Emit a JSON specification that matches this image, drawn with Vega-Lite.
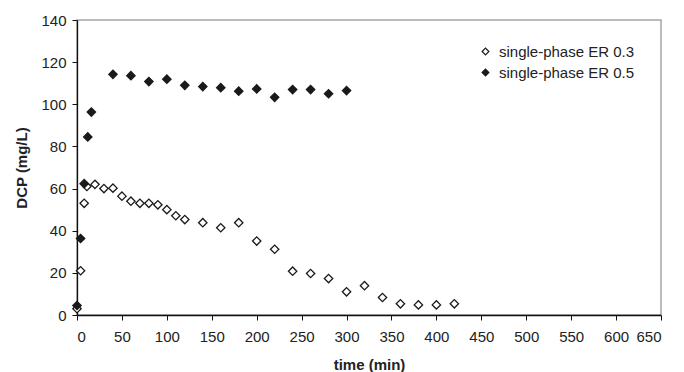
{
  "$schema": "https://vega.github.io/schema/vega-lite/v6.json",
  "autosize": {"type": "none"},
  "width": 584,
  "height": 295,
  "padding": {"left": 77, "top": 20, "right": 23, "bottom": 57},
  "background": "white",
  "config": {
    "view": {"stroke": "#a6a6a6", "strokeWidth": 1.5},
    "font": "Liberation Sans"
  },
  "data": {
    "values": [
      {"series": "single-phase ER 0.3", "time": 0, "dcp": 3},
      {"series": "single-phase ER 0.3", "time": 4, "dcp": 21},
      {"series": "single-phase ER 0.3", "time": 8, "dcp": 53},
      {"series": "single-phase ER 0.3", "time": 11, "dcp": 61},
      {"series": "single-phase ER 0.3", "time": 20, "dcp": 62},
      {"series": "single-phase ER 0.3", "time": 30, "dcp": 60},
      {"series": "single-phase ER 0.3", "time": 40, "dcp": 60.2},
      {"series": "single-phase ER 0.3", "time": 50, "dcp": 56.4},
      {"series": "single-phase ER 0.3", "time": 60, "dcp": 54},
      {"series": "single-phase ER 0.3", "time": 70, "dcp": 53},
      {"series": "single-phase ER 0.3", "time": 80, "dcp": 53},
      {"series": "single-phase ER 0.3", "time": 90, "dcp": 52.3},
      {"series": "single-phase ER 0.3", "time": 100, "dcp": 50},
      {"series": "single-phase ER 0.3", "time": 110, "dcp": 47.1},
      {"series": "single-phase ER 0.3", "time": 120, "dcp": 45.3},
      {"series": "single-phase ER 0.3", "time": 140, "dcp": 43.8},
      {"series": "single-phase ER 0.3", "time": 160, "dcp": 41.4},
      {"series": "single-phase ER 0.3", "time": 180, "dcp": 43.8},
      {"series": "single-phase ER 0.3", "time": 200, "dcp": 35.1},
      {"series": "single-phase ER 0.3", "time": 220, "dcp": 31.2},
      {"series": "single-phase ER 0.3", "time": 240, "dcp": 20.8},
      {"series": "single-phase ER 0.3", "time": 260, "dcp": 19.7},
      {"series": "single-phase ER 0.3", "time": 280, "dcp": 17.3},
      {"series": "single-phase ER 0.3", "time": 300, "dcp": 11},
      {"series": "single-phase ER 0.3", "time": 320, "dcp": 13.9},
      {"series": "single-phase ER 0.3", "time": 340, "dcp": 8.3},
      {"series": "single-phase ER 0.3", "time": 360, "dcp": 5.3},
      {"series": "single-phase ER 0.3", "time": 380, "dcp": 4.8},
      {"series": "single-phase ER 0.3", "time": 400, "dcp": 4.8},
      {"series": "single-phase ER 0.3", "time": 420, "dcp": 5.3},
      {"series": "single-phase ER 0.5", "time": 0, "dcp": 4.5},
      {"series": "single-phase ER 0.5", "time": 4, "dcp": 36.3},
      {"series": "single-phase ER 0.5", "time": 8, "dcp": 62.3},
      {"series": "single-phase ER 0.5", "time": 12, "dcp": 84.5},
      {"series": "single-phase ER 0.5", "time": 16, "dcp": 96.3},
      {"series": "single-phase ER 0.5", "time": 40, "dcp": 114.2},
      {"series": "single-phase ER 0.5", "time": 60, "dcp": 113.6},
      {"series": "single-phase ER 0.5", "time": 80, "dcp": 110.8},
      {"series": "single-phase ER 0.5", "time": 100, "dcp": 111.9},
      {"series": "single-phase ER 0.5", "time": 120, "dcp": 109},
      {"series": "single-phase ER 0.5", "time": 140, "dcp": 108.4},
      {"series": "single-phase ER 0.5", "time": 160, "dcp": 107.9},
      {"series": "single-phase ER 0.5", "time": 180, "dcp": 106.2},
      {"series": "single-phase ER 0.5", "time": 200, "dcp": 107.3},
      {"series": "single-phase ER 0.5", "time": 220, "dcp": 103.3},
      {"series": "single-phase ER 0.5", "time": 240, "dcp": 107},
      {"series": "single-phase ER 0.5", "time": 260, "dcp": 107},
      {"series": "single-phase ER 0.5", "time": 280, "dcp": 105},
      {"series": "single-phase ER 0.5", "time": 300, "dcp": 106.5}
    ]
  },
  "mark": {"type": "point", "shape": "diamond", "filled": true, "size": 70, "stroke": "#1a1a1a", "strokeWidth": 1.3, "opacity": 1},
  "encoding": {
    "x": {
      "field": "time", "type": "quantitative",
      "scale": {"domain": [0, 650], "nice": false, "zero": true},
      "axis": {
        "values": [0, 50, 100, 150, 200, 250, 300, 350, 400, 450, 500, 550, 600, 650],
        "title": "time (min)", "titleFontWeight": "bold", "titleFontSize": 15, "titleColor": "#222", "titlePadding": 13,
        "labelFontSize": 15, "labelColor": "#222", "labelPadding": 9,
        "domainColor": "#111", "domainWidth": 1.3, "tickColor": "#111", "tickSize": 5, "grid": false
      }
    },
    "y": {
      "field": "dcp", "type": "quantitative",
      "scale": {"domain": [0, 140], "nice": false},
      "axis": {
        "values": [0, 20, 40, 60, 80, 100, 120, 140],
        "title": "DCP (mg/L)", "titleFontWeight": "bold", "titleFontSize": 15, "titleColor": "#222", "titlePadding": 11,
        "labelFontSize": 15, "labelColor": "#222", "labelPadding": 6,
        "domainColor": "#111", "domainWidth": 1.3, "tickColor": "#111", "tickSize": 5, "grid": false
      }
    },
    "fill": {
      "field": "series", "type": "nominal",
      "scale": {"domain": ["single-phase ER 0.3", "single-phase ER 0.5"], "range": ["white", "#1a1a1a"]},
      "legend": {
        "title": null, "orient": "none", "legendX": 401, "legendY": 24,
        "symbolType": "diamond", "symbolSize": 45, "symbolStrokeColor": "#1a1a1a", "symbolStrokeWidth": 1.2,
        "labelFontSize": 15, "labelColor": "#222", "labelOffset": 6, "rowPadding": 5
      }
    }
  }
}
